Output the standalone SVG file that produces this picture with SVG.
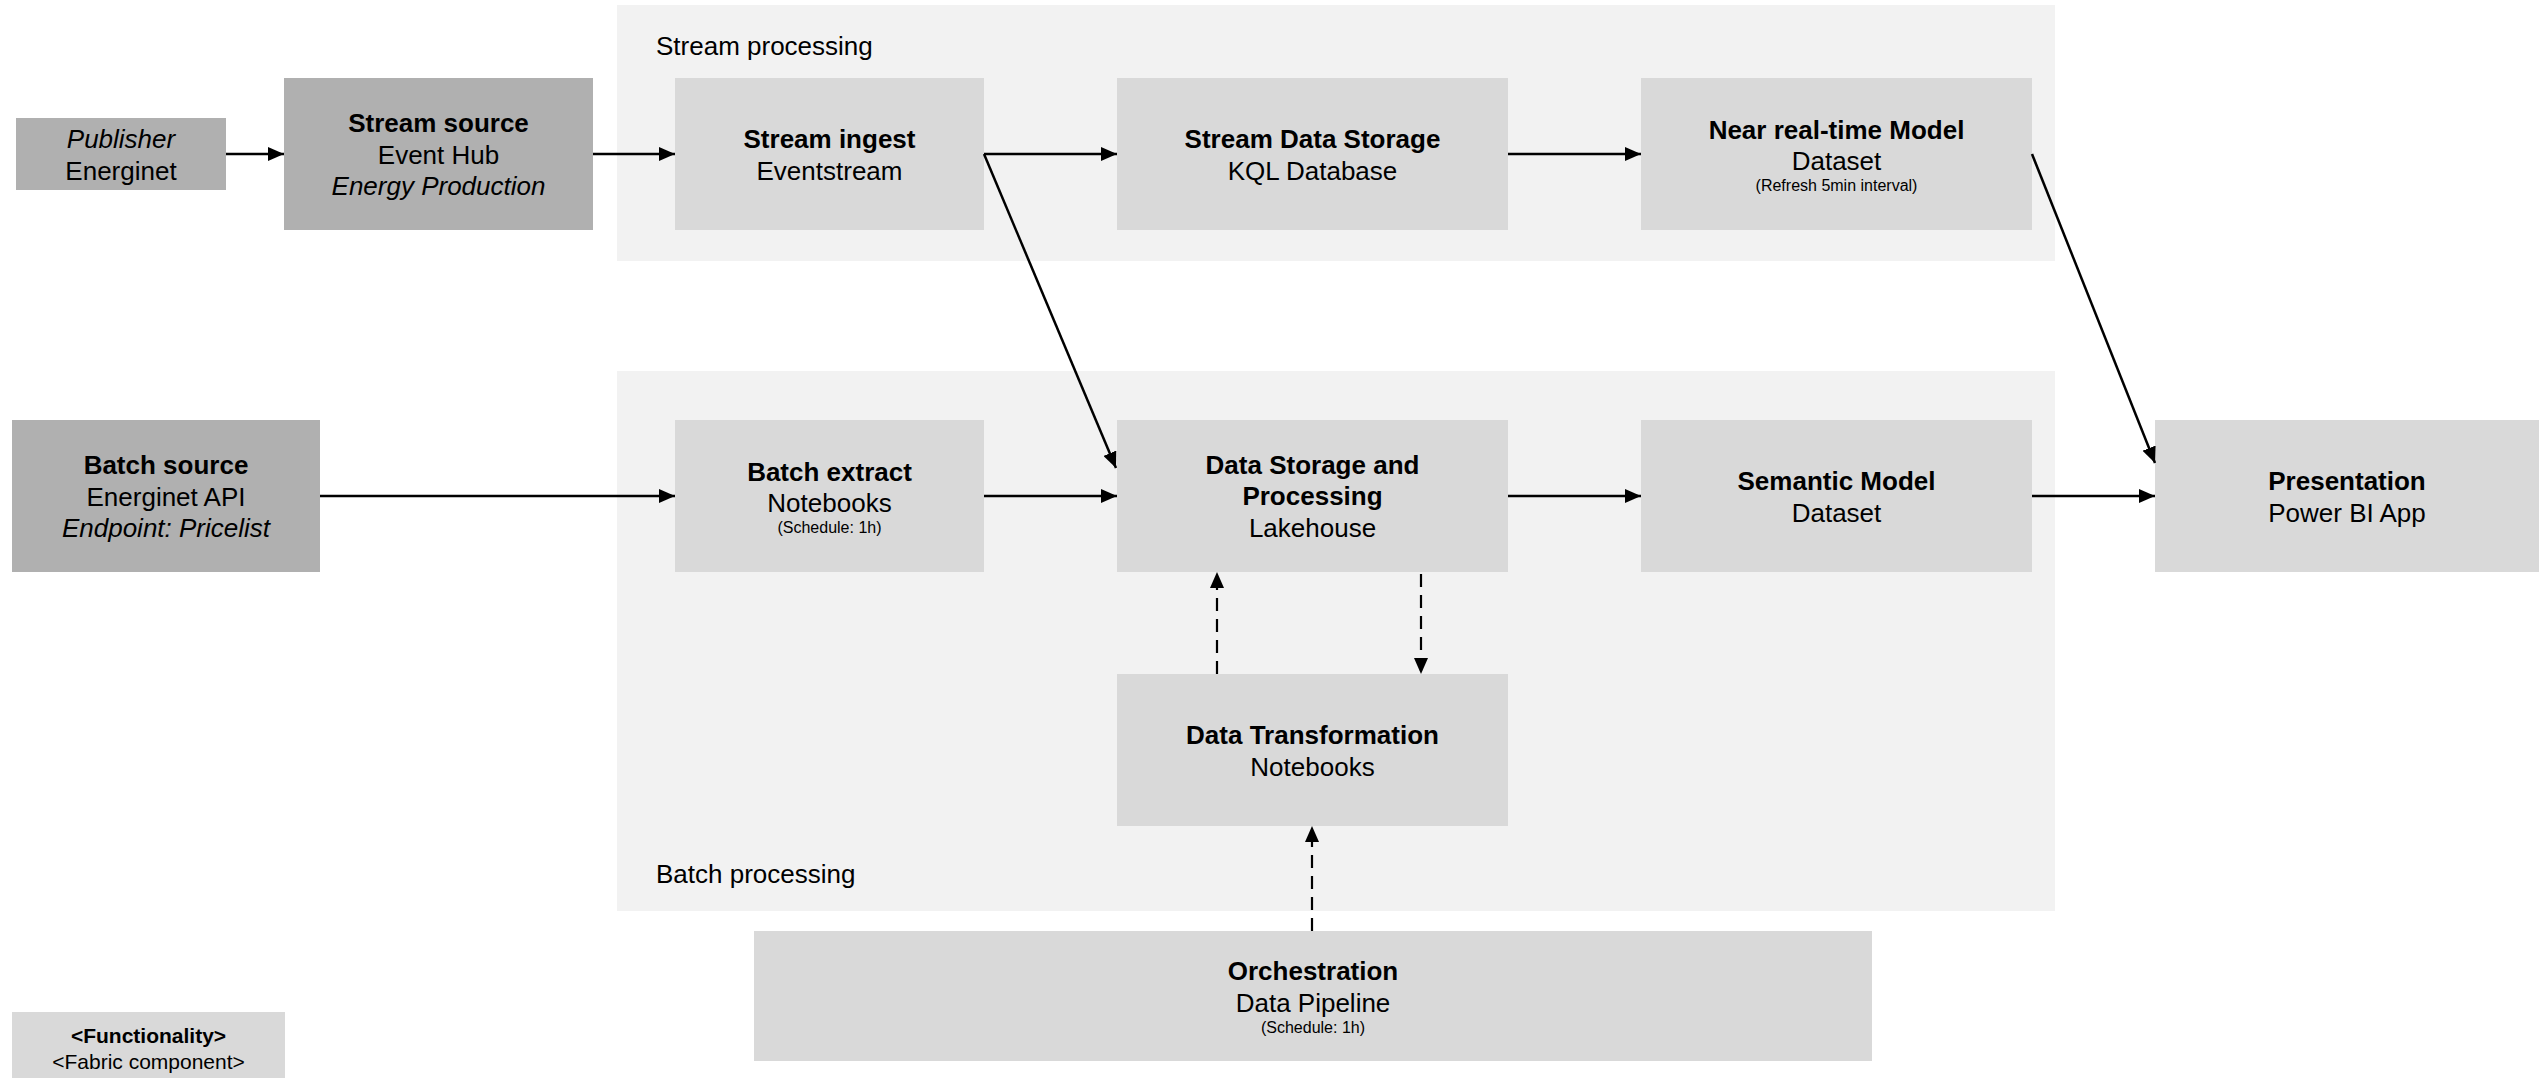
<svg xmlns="http://www.w3.org/2000/svg" width="2539" height="1078" viewBox="0 0 2539 1078">
<style>
text{font-family:"Liberation Sans",Arial,sans-serif;fill:#000;text-anchor:middle}
.t{font-size:26px;font-weight:bold}
.s{font-size:26px}
.i{font-size:26px;font-style:italic}
.x{font-size:16px}
.lab{font-size:26px;text-anchor:start}
.lt{font-size:21px;font-weight:bold}
.ls{font-size:21px}
.dark{fill:#b0b0b0}
.node{fill:#d9d9d9}
.cont{fill:#f2f2f2}
.c{stroke:#000;stroke-width:2.5;fill:none;marker-end:url(#ah)}
.d{stroke:#000;stroke-width:2.2;fill:none;stroke-dasharray:13 8;marker-end:url(#ah)}
</style>
<defs>
<marker id="ah" markerUnits="userSpaceOnUse" markerWidth="16" markerHeight="14" refX="16" refY="7" orient="auto">
<path d="M0,0 L16,7 L0,14 z" fill="#000"/>
</marker>
</defs>
<rect width="2539" height="1078" fill="#fff"/>
<g id="stream-processing">
<rect class="cont" x="617" y="5" width="1438" height="256"/>
<text class="lab" x="656" y="55">Stream processing</text>
</g>
<g id="batch-processing">
<rect class="cont" x="617" y="371" width="1438" height="540"/>
<text class="lab" x="656" y="883">Batch processing</text>
</g>
<g id="publisher">
<rect class="dark" x="16" y="118" width="210" height="72"/>
<text class="i" x="121" y="148">Publisher</text>
<text class="s" x="121" y="180">Energinet</text>
</g>
<g id="stream-source">
<rect class="dark" x="284" y="78" width="309" height="152"/>
<text class="t" x="438.5" y="132">Stream source</text>
<text class="s" x="438.5" y="164">Event Hub</text>
<text class="i" x="438.5" y="195">Energy Production</text>
</g>
<g id="stream-ingest">
<rect class="node" x="675" y="78" width="309" height="152"/>
<text class="t" x="829.5" y="148">Stream ingest</text>
<text class="s" x="829.5" y="180">Eventstream</text>
</g>
<g id="stream-data-storage">
<rect class="node" x="1117" y="78" width="391" height="152"/>
<text class="t" x="1312.5" y="148">Stream Data Storage</text>
<text class="s" x="1312.5" y="180">KQL Database</text>
</g>
<g id="near-real-time-model">
<rect class="node" x="1641" y="78" width="391" height="152"/>
<text class="t" x="1836.5" y="139">Near real-time Model</text>
<text class="s" x="1836.5" y="170">Dataset</text>
<text class="x" x="1836.5" y="191">(Refresh 5min interval)</text>
</g>
<g id="batch-source">
<rect class="dark" x="12" y="420" width="308" height="152"/>
<text class="t" x="166" y="474">Batch source</text>
<text class="s" x="166" y="506">Energinet API</text>
<text class="i" x="166" y="537">Endpoint: Pricelist</text>
</g>
<g id="batch-extract">
<rect class="node" x="675" y="420" width="309" height="152"/>
<text class="t" x="829.5" y="481">Batch extract</text>
<text class="s" x="829.5" y="512">Notebooks</text>
<text class="x" x="829.5" y="533">(Schedule: 1h)</text>
</g>
<g id="data-storage-processing">
<rect class="node" x="1117" y="420" width="391" height="152"/>
<text class="t" x="1312.5" y="474">Data Storage and</text>
<text class="t" x="1312.5" y="505">Processing</text>
<text class="s" x="1312.5" y="537">Lakehouse</text>
</g>
<g id="semantic-model">
<rect class="node" x="1641" y="420" width="391" height="152"/>
<text class="t" x="1836.5" y="490">Semantic Model</text>
<text class="s" x="1836.5" y="522">Dataset</text>
</g>
<g id="presentation">
<rect class="node" x="2155" y="420" width="384" height="152"/>
<text class="t" x="2347" y="490">Presentation</text>
<text class="s" x="2347" y="522">Power BI App</text>
</g>
<g id="data-transformation">
<rect class="node" x="1117" y="674" width="391" height="152"/>
<text class="t" x="1312.5" y="744">Data Transformation</text>
<text class="s" x="1312.5" y="776">Notebooks</text>
</g>
<g id="orchestration">
<rect class="node" x="754" y="931" width="1118" height="130"/>
<text class="t" x="1313" y="980">Orchestration</text>
<text class="s" x="1313" y="1012">Data Pipeline</text>
<text class="x" x="1313" y="1033">(Schedule: 1h)</text>
</g>
<g id="legend">
<rect class="node" x="12" y="1012" width="273" height="70"/>
<text class="lt" x="148.5" y="1043">&lt;Functionality&gt;</text>
<text class="ls" x="148.5" y="1069">&lt;Fabric component&gt;</text>
</g>
<g id="connectors">
<line class="c" x1="226" y1="154" x2="284" y2="154"/>
<line class="c" x1="593" y1="154" x2="675" y2="154"/>
<line class="c" x1="984" y1="154" x2="1117" y2="154"/>
<line class="c" x1="984" y1="154" x2="1116" y2="468"/>
<line class="c" x1="1508" y1="154" x2="1641" y2="154"/>
<line class="c" x1="2032" y1="154" x2="2155" y2="463"/>
<line class="c" x1="320" y1="496" x2="675" y2="496"/>
<line class="c" x1="984" y1="496" x2="1117" y2="496"/>
<line class="c" x1="1508" y1="496" x2="1641" y2="496"/>
<line class="c" x1="2032" y1="496" x2="2155" y2="496"/>
<line class="d" x1="1217" y1="674" x2="1217" y2="572"/>
<line class="d" x1="1421" y1="574" x2="1421" y2="674"/>
<line class="d" x1="1312" y1="931" x2="1312" y2="826"/>
</g>
</svg>
